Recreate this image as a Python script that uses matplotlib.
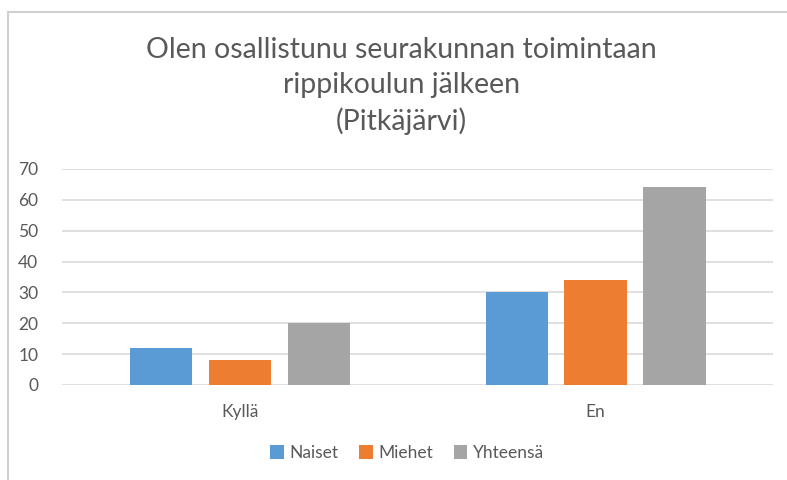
import numpy as np
import matplotlib.pyplot as plt
from matplotlib.lines import Line2D

categories = ['Kyllä', 'En']
series = ['Naiset', 'Miehet', 'Yhteensä']
naiset = [12, 30]
miehet = [8, 34]
yhteensa = [20, 64]
yticks = [0, 10, 20, 30, 40, 50, 60, 70]

colors = ['#5B9BD5', '#ED7D31', '#A5A5A5']
text_col = '#595959'

plt.rcParams['font.family'] = ['Lato', 'DejaVu Sans']

fig = plt.figure(figsize=(7.87, 4.8), dpi=100)
ax = fig.add_axes([0.0788, 0.198, 0.904, 0.45])

x = np.arange(len(categories))
width = 0.175
offset = 0.222
for i, (name, vals) in enumerate(zip(series, [naiset, miehet, yhteensa])):
    ax.bar(x + (i - 1) * offset, vals, width, color=colors[i], label=name, zorder=3)

ax.set_xlim(-0.5, 1.5)
ax.set_ylim(0, 70)
ax.set_yticks(yticks)
ax.set_xticks(x)
ax.set_xticklabels(categories)
ax.grid(axis='y', color='#D9D9D9', linewidth=1.2, zorder=0)
for s in ax.spines.values():
    s.set_visible(False)
ax.tick_params(axis='both', length=0, colors=text_col, labelsize=12.5)
ax.tick_params(axis='y', pad=17)
ax.tick_params(axis='x', pad=14)

fig.text(0.51, 0.922, 'Olen osallistunu seurakunnan toimintaan\nrippikoulun jälkeen\n(Pitkäjärvi)',
         ha='center', va='top', fontsize=20.5, color=text_col, linespacing=1.42)

leg = fig.legend(loc='center', bbox_to_anchor=(0.517, 0.056), ncol=3, frameon=False,
                 fontsize=12.5, handlelength=0.8, handleheight=0.8, handletextpad=0.3,
                 columnspacing=1.2)
for t in leg.get_texts():
    t.set_color(text_col)

# chart border (left and top edges visible in the screenshot)
fig.add_artist(Line2D([0.0102, 0.0102], [0.0, 0.975], transform=fig.transFigure,
                      color='#D0D0D0', linewidth=1.5))
fig.add_artist(Line2D([0.0102, 1.0], [0.975, 0.975], transform=fig.transFigure,
                      color='#D0D0D0', linewidth=1.5))

fig.savefig('out.png', dpi=100)
